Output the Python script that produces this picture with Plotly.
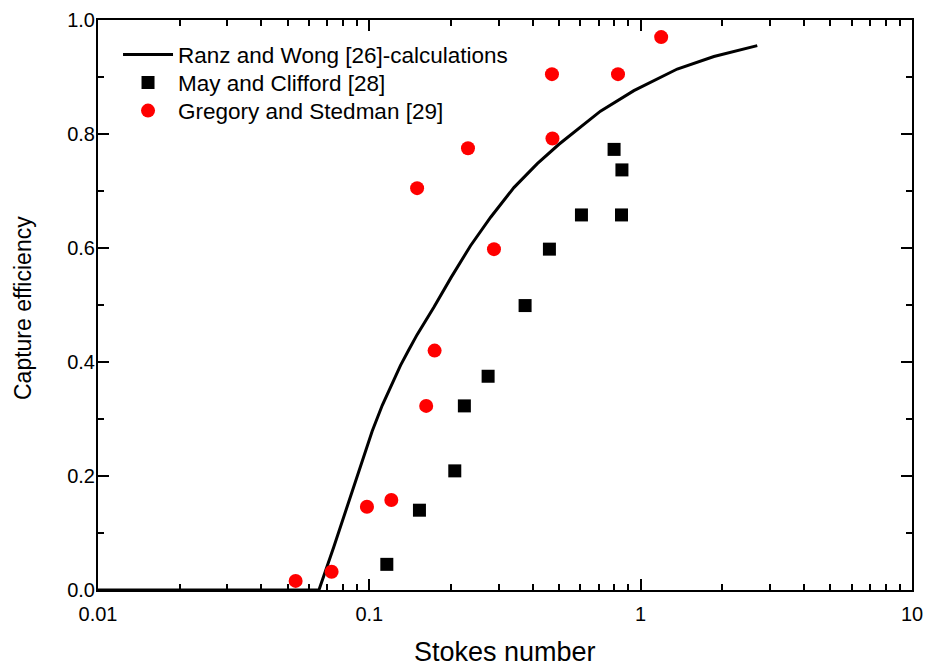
import plotly.graph_objects as go

# Ranz and Wong calculations
rw_x = [0.01, 0.02, 0.04, 0.0652, 0.0740, 0.0805, 0.0877, 0.0942, 0.1025, 0.1116, 0.120, 0.1303, 0.140, 0.150, 0.1729, 0.200, 0.236, 0.280, 0.341, 0.416, 0.500, 0.6355, 0.711, 0.944, 1.364, 1.862, 2.69]
rw_y = [0.0, 0.0, 0.0, 0.0, 0.0759, 0.1285, 0.185, 0.228, 0.279, 0.324, 0.358, 0.394, 0.422, 0.448, 0.496, 0.548, 0.604, 0.654, 0.706, 0.748, 0.782, 0.822, 0.840, 0.876, 0.914, 0.936, 0.955]

# May and Clifford [28]
mc_x = [0.116, 0.153, 0.2065, 0.224, 0.274, 0.375, 0.461, 0.605, 0.798, 0.853, 0.85]
mc_y = [0.045, 0.140, 0.209, 0.323, 0.375, 0.499, 0.598, 0.658, 0.773, 0.737, 0.658]

# Gregory and Stedman [29]
gs_x = [0.0535, 0.0726, 0.098, 0.1205, 0.162, 0.174, 0.150, 0.231, 0.288, 0.471, 0.473, 0.825, 1.19]
gs_y = [0.016, 0.032, 0.146, 0.158, 0.323, 0.420, 0.705, 0.775, 0.598, 0.905, 0.792, 0.905, 0.970]

x_tickvals = [0.01, 0.1, 1, 10]
x_ticktext = ["0.01", "0.1", "1", "10"]
x_minor = [m * d for d in (0.01, 0.1, 1) for m in range(2, 10)]
y_tickvals = [0, 0.2, 0.4, 0.6, 0.8, 1.0]
y_minor = [0.1, 0.3, 0.5, 0.7, 0.9]

fig = go.Figure()
fig.add_trace(go.Scatter(x=rw_x, y=rw_y, mode="lines", name="Ranz and Wong [26]-calculations",
                         line=dict(color="black", width=3), legend="legend"))
fig.add_trace(go.Scatter(x=mc_x, y=mc_y, mode="markers", name="May and Clifford [28]",
                         marker=dict(symbol="square", color="black", size=13), legend="legend2"))
fig.add_trace(go.Scatter(x=gs_x, y=gs_y, mode="markers", name="Gregory and Stedman [29]",
                         marker=dict(symbol="circle", color="#ff0000", size=14), legend="legend3"))

font_family = "Liberation Sans, Arial, sans-serif"
leg_common = dict(x=0.0246, xanchor="left", yanchor="middle",
                  bgcolor="rgba(0,0,0,0)", font=dict(size=22.5), itemwidth=50)

fig.update_layout(
    width=927, height=668,
    margin=dict(l=98, r=15, t=20, b=78),
    paper_bgcolor="white", plot_bgcolor="white",
    font=dict(family=font_family, size=20, color="black"),
    showlegend=True,
    legend=dict(y=0.9386, **leg_common),
    legend2=dict(y=0.8895, **leg_common),
    legend3=dict(y=0.8404, **leg_common),
    annotations=[
        dict(text="Stokes number", x=0.5, y=0, xref="paper", yref="paper",
             xanchor="center", yanchor="middle", yshift=-62, showarrow=False,
             font=dict(size=27)),
        dict(text="Capture efficiency", x=0, y=0.5, xref="paper", yref="paper",
             xanchor="center", yanchor="middle", xshift=-75, yshift=-3, textangle=-90,
             showarrow=False, font=dict(size=23)),
    ],
)
fig.update_xaxes(
    type="log", range=[-2, 1], automargin=False,
    tickmode="array", tickvals=x_tickvals, ticktext=x_ticktext,
    ticks="inside", ticklen=11, tickwidth=2, tickcolor="black",
    minor=dict(tickmode="array", tickvals=x_minor, ticks="inside", ticklen=6, tickwidth=2, tickcolor="black", showgrid=False),
    showline=True, linecolor="black", linewidth=2, mirror="ticks",
    showgrid=False, zeroline=False,
    tickfont=dict(size=20), ticklabelstandoff=5,
)
fig.update_yaxes(
    range=[0, 1.0], automargin=False,
    tickmode="array", tickvals=y_tickvals, tickformat=".1f",
    ticks="inside", ticklen=11, tickwidth=2, tickcolor="black",
    minor=dict(tickmode="array", tickvals=y_minor, ticks="inside", ticklen=6, tickwidth=2, tickcolor="black", showgrid=False),
    showline=True, linecolor="black", linewidth=2, mirror="ticks",
    showgrid=False, zeroline=False,
    tickfont=dict(size=20), ticklabelstandoff=-3,
)

fig.write_html("out.html", config={"displayModeBar": False},
               post_script="document.body.style.margin='0';")
